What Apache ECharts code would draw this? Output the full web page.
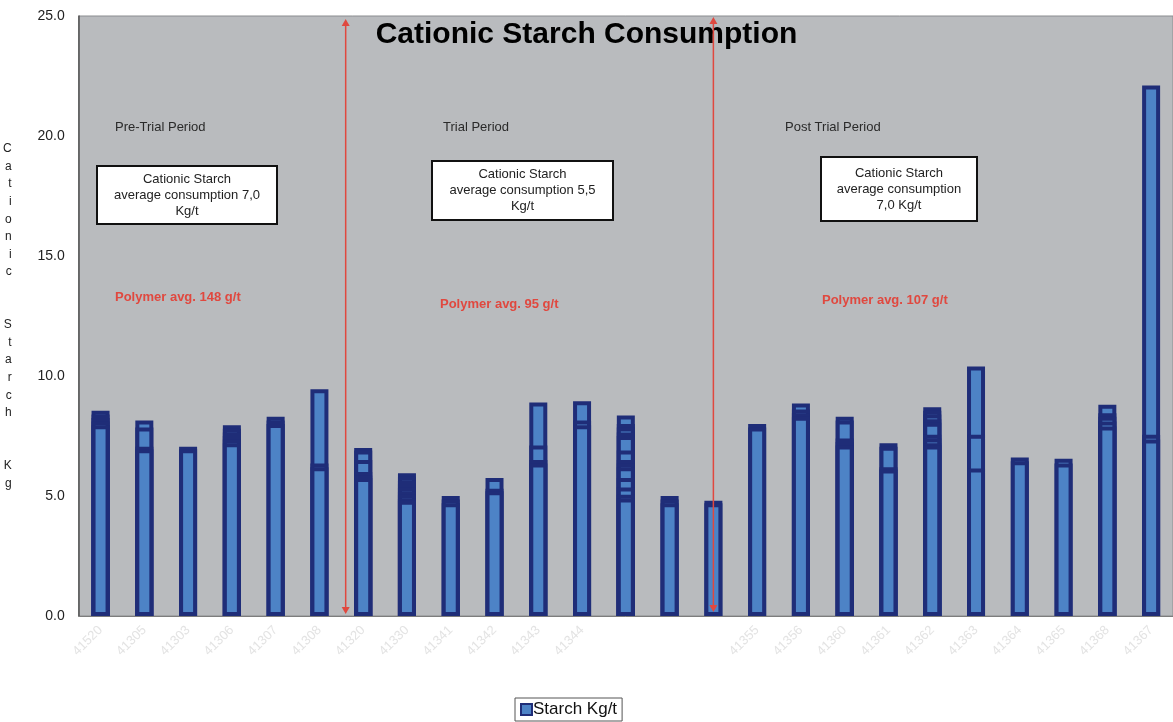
<!DOCTYPE html>
<html>
<head>
<meta charset="utf-8">
<title>Cationic Starch Consumption</title>
<script src="https://cdn.jsdelivr.net/npm/echarts@6/dist/echarts.min.js"></script>
<style>
  html, body { margin: 0; padding: 0; background: #ffffff; }
  #chart { width: 1173px; height: 722px; }
</style>
</head>
<body>
<div id="chart"></div>
<script>
// Day labels along the x axis (three days have no label)
const categories = [
  '41520', '41305', '41303', '41306', '41307', '41308', '41320', '41330', '41341',
  '41342', '41343', '41344', '', '', '', '41355', '41356', '41360', '41361',
  '41362', '41363', '41364', '41365', '41368', '41367'
];

// Starch readings (Kg/t) per day, largest first; each reading is drawn as an
// overlapping bar so the lower readings show as bands inside the column.
const preTrial = [
  [8.55, 8.4, 8.25, 8.1, 7.95],
  [8.15, 7.85, 7.05, 6.95],
  [7.05, 6.95],
  [7.95, 7.8, 7.65, 7.5, 7.35, 7.2],
  [8.3, 8.15, 8.0],
  [9.45, 6.35, 6.2]
];
const trial = [
  [7.0, 6.9, 6.5, 6.0, 5.85, 5.75],
  [5.95, 5.8, 5.65, 5.5, 5.35, 5.2, 5.05, 4.9, 4.8],
  [5.0, 4.85, 4.7],
  [5.75, 5.3, 5.2],
  [8.9, 7.1, 6.5, 6.35],
  [8.95, 8.15, 7.95],
  [8.35, 8.0, 7.85, 7.65, 7.5, 6.9, 6.5, 6.35, 6.2, 5.75, 5.35, 5.05, 4.9],
  [5.0, 4.85, 4.7],
  [4.8, 4.7]
];
const postTrial = [
  [8.0, 7.85],
  [8.85, 8.6, 8.45, 8.3],
  [8.3, 8.15, 7.4, 7.25, 7.1],
  [7.2, 7.05, 6.2, 6.1],
  [8.7, 8.55, 8.4, 8.2, 8.05, 7.55, 7.4, 7.2, 7.1],
  [10.4, 7.55, 6.15],
  [6.6, 6.45],
  [6.55, 6.35],
  [8.8, 8.45, 8.3, 8.1, 7.9],
  [22.1, 7.55, 7.35]
];

// Y axis ticks
const yTicks = [0, 5, 10, 15, 20, 25];

// Period notes
const periodNames = ['Pre-Trial Period', 'Trial Period', 'Post Trial Period'];
const averageNotes = [
  'Cationic Starch\naverage consumption 7,0\nKg/t',
  'Cationic Starch\naverage consumption 5,5\nKg/t',
  'Cationic Starch\naverage consumption\n7,0 Kg/t'
];
const polymerNotes = ['Polymer avg. 148 g/t', 'Polymer avg. 95 g/t', 'Polymer avg. 107 g/t'];

const SERIES_NAME = 'Starch Kg/t';
const FONT = 'Arial, "Liberation Sans", Helvetica, sans-serif';
const FILL = '#4d83c6';
const EDGE = '#1f2d78';
const RED = '#e0483f';

const readings = preTrial.concat(trial, postTrial);
const depth = Math.max.apply(null, readings.map(r => r.length));

const series = [];
for (let k = 0; k < depth; k++) {
  series.push({
    type: 'bar',
    name: SERIES_NAME,
    data: readings.map(r => (k < r.length ? r[k] : '-')),
    barWidth: 18,
    barGap: '-100%',
    itemStyle: { color: FILL, borderColor: EDGE, borderWidth: 4 },
    emphasis: { disabled: true },
    silent: true
  });
}

const chart = echarts.init(document.getElementById('chart'), null, { renderer: 'canvas' });

const yName = 'Cationic  Starch  Kg'.split('').join('\n');

chart.setOption({
  animation: false,
  backgroundColor: '#ffffff',
  title: {
    text: 'Cationic Starch Consumption',
    left: 'center',
    top: 15,
    textStyle: { fontFamily: FONT, fontSize: 30, fontWeight: 'bold', color: '#000' }
  },
  legend: {
    data: [SERIES_NAME],
    left: 515,
    top: 698,
    padding: [3, 5, 3, 5],
    itemWidth: 11,
    itemHeight: 11,
    icon: 'rect',
    itemStyle: { color: FILL, borderColor: EDGE, borderWidth: 2 },
    backgroundColor: '#ffffff',
    borderColor: '#555',
    borderWidth: 1,
    textStyle: { fontFamily: FONT, fontSize: 17, color: '#111', padding: [0, 0, 0, -4] }
  },
  grid: {
    left: 77,
    top: 16,
    width: 1100,
    height: 600,
    show: true,
    backgroundColor: '#b9bbbe',
    borderColor: '#8a8c8f',
    borderWidth: 1
  },
  xAxis: {
    type: 'category',
    data: categories,
    boundaryGap: true,
    axisTick: { show: false },
    axisLine: { lineStyle: { color: '#7d7d7d', width: 1 } },
    axisLabel: {
      rotate: 45,
      interval: 0,
      margin: 12,
      fontFamily: FONT,
      fontSize: 13,
      color: '#e3e3e3'
    }
  },
  yAxis: {
    type: 'value',
    min: yTicks[0],
    max: yTicks[yTicks.length - 1],
    interval: yTicks[1] - yTicks[0],
    name: yName,
    nameLocation: 'middle',
    nameRotate: 0,
    nameGap: 67,
    nameTextStyle: { fontFamily: FONT, fontSize: 12, color: '#222', lineHeight: 17.6 },
    splitLine: { show: false },
    axisTick: { show: false },
    axisLine: { show: true, lineStyle: { color: '#555', width: 1.5 } },
    axisLabel: {
      margin: 14,
      fontFamily: FONT,
      fontSize: 14,
      color: '#222',
      formatter: v => v.toFixed(1)
    }
  },
  series: series
});

// Annotations: period dividers, headings, average boxes and polymer notes
function px(index, value) {
  return chart.convertToPixel({ xAxisIndex: 0, yAxisIndex: 0 }, [index, value]);
}

function arrowLine(x, yTop, yBottom) {
  const h = 7, w = 4;
  return [
    { type: 'line', z: 20, shape: { x1: x, y1: yTop + 2, x2: x, y2: yBottom - 2 },
      style: { stroke: RED, lineWidth: 1.5 } },
    { type: 'polygon', z: 20, shape: { points: [[x, yTop], [x - w, yTop + h], [x + w, yTop + h]] },
      style: { fill: RED } },
    { type: 'polygon', z: 20, shape: { points: [[x, yBottom], [x - w, yBottom - h], [x + w, yBottom - h]] },
      style: { fill: RED } }
  ];
}

const firstDiv = px(5, 0)[0] + 0.6 * (px(6, 0)[0] - px(5, 0)[0]);
const secondDiv = px(preTrial.length + trial.length - 1, 0)[0];

const headingPos = [[115, 127], [443, 127], [785, 127]];
const boxRects = [[97, 166, 180, 58], [432, 161, 181, 59], [821, 157, 156, 64]];
const polymerPos = [[115, 297], [440, 304], [822, 300]];

const graphics = []
  .concat(arrowLine(firstDiv, 19, 614))
  .concat(arrowLine(secondDiv, 17, 612));

periodNames.forEach((t, i) => {
  graphics.push({
    type: 'text', z: 15, x: headingPos[i][0], y: headingPos[i][1],
    style: { text: t, fill: '#2a2a2a', font: '13px ' + FONT, textVerticalAlign: 'middle' }
  });
  const r = boxRects[i];
  graphics.push({
    type: 'rect', z: 15, shape: { x: r[0], y: r[1], width: r[2], height: r[3] },
    style: { fill: '#ffffff', stroke: '#111', lineWidth: 2 }
  });
  graphics.push({
    type: 'text', z: 16, x: r[0] + r[2] / 2, y: r[1] + r[3] / 2,
    style: {
      text: averageNotes[i], fill: '#222', font: '13px ' + FONT,
      align: 'center', verticalAlign: 'middle', lineHeight: 16
    }
  });
  graphics.push({
    type: 'text', z: 15, x: polymerPos[i][0], y: polymerPos[i][1],
    style: { text: polymerNotes[i], fill: RED, font: 'bold 13px ' + FONT, textVerticalAlign: 'middle' }
  });
});

chart.setOption({ graphic: graphics });
</script>
</body>
</html>
